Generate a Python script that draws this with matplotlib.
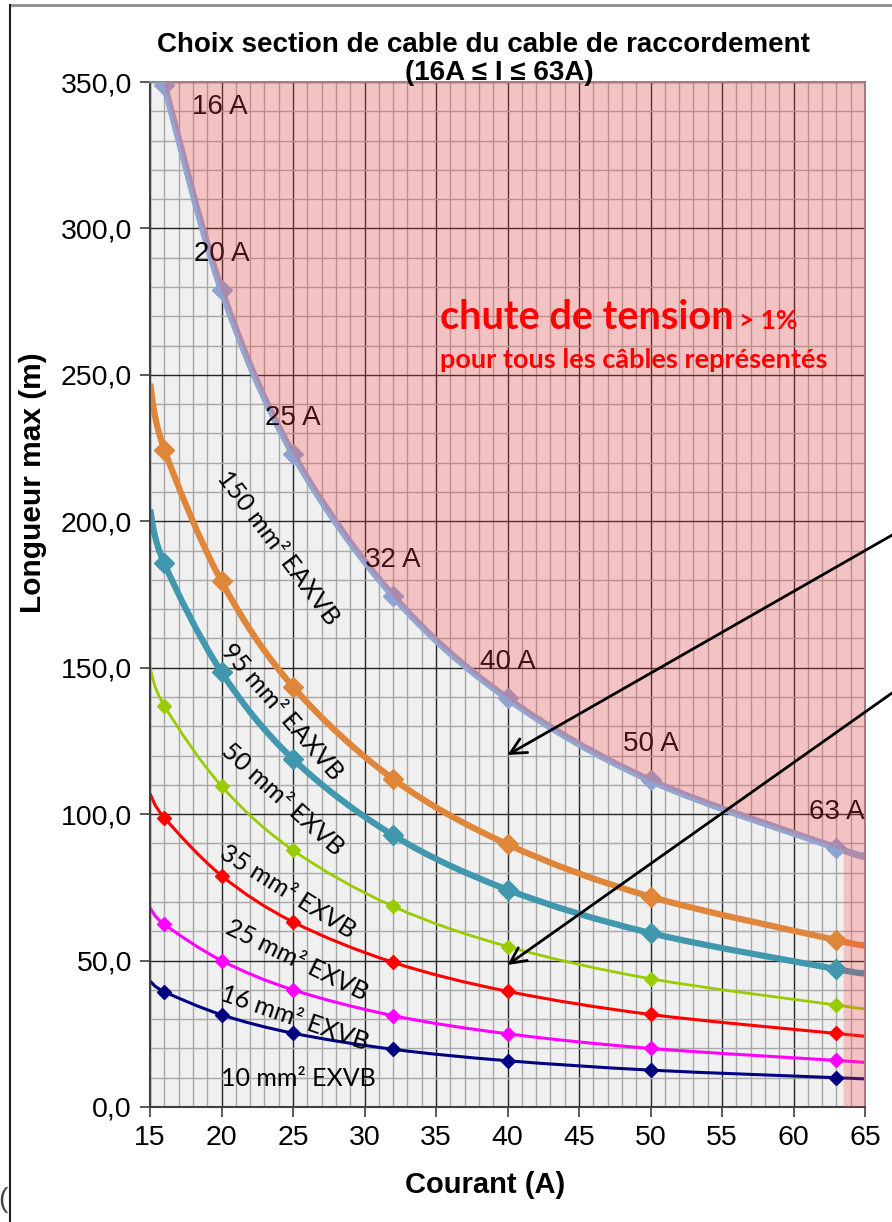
import numpy as np
import matplotlib
matplotlib.use('Agg')
import matplotlib.pyplot as plt
from matplotlib.path import Path
from matplotlib.patches import PathPatch
from matplotlib.lines import Line2D
from matplotlib.ticker import FuncFormatter, MultipleLocator

# courant (A) des points marques
courant = [16, 20, 25, 32, 40, 50, 63]

# longueur max (m)
limite_1pct = [349, 279, 223, 174.5, 139.5, 111.5, 88.5]
l_150 = [224.5, 179.5, 143.5, 112, 89.7, 71.8, 57]
l_95 = [185.6, 148.5, 118.8, 92.8, 74.2, 59.4, 47.1]
l_50 = [137, 109.6, 87.7, 68.5, 54.8, 43.8, 34.8]
l_35 = [98.8, 79, 63.2, 49.4, 39.5, 31.6, 25.1]
l_25 = [62.4, 50, 40, 31.2, 25, 20, 15.9]
l_10 = [39.4, 31.5, 25.2, 19.7, 15.8, 12.6, 10]

# extremites des courbes lissees (sans marqueur), a 15 A et 65 A
bord_15 = {'150': 247, '95': 204, '50': 150, '35': 107, '25': 68, '10': 43}
bord_65 = {'lim': 85.6, '150': 55.2, '95': 45.7, '50': 33.5, '35': 24.2, '25': 15.2, '10': 9.6}

labels_courant = ['16 A', '20 A', '25 A', '32 A', '40 A', '50 A', '63 A']


def smooth_path(x, y):
    # courbe lissee facon Excel (Catmull-Rom -> Bezier cubique)
    pts = np.column_stack([x, y]).astype(float)
    n = len(pts)
    verts = [pts[0]]
    codes = [Path.MOVETO]
    for i in range(n - 1):
        p0 = pts[max(i - 1, 0)]
        p1 = pts[i]
        p2 = pts[i + 1]
        p3 = pts[min(i + 2, n - 1)]
        verts += [p1 + (p2 - p0) / 6, p2 - (p3 - p1) / 6, p2]
        codes += [Path.CURVE4] * 3
    return verts, codes


fig = plt.figure(figsize=(8.92, 12.22), dpi=100)
ax = fig.add_axes([150 / 892, 1 - 1107 / 1222, 715 / 892, 1025 / 1222])
ax.set_facecolor('#f0f0f0')
ax.set_xlim(15, 65)
ax.set_ylim(0, 350)

ax.xaxis.set_major_locator(MultipleLocator(5))
ax.xaxis.set_minor_locator(MultipleLocator(1))
ax.yaxis.set_major_locator(MultipleLocator(50))
ax.yaxis.set_minor_locator(MultipleLocator(10))
ax.yaxis.set_major_formatter(FuncFormatter(lambda v, p: '{:.1f}'.format(v).replace('.', ',')))
ax.set_axisbelow(True)
ax.grid(which='minor', color='#a8a8a8', lw=1.0, zorder=0.5)
ax.grid(which='major', color='#262626', lw=1.0, zorder=0.6)
ax.tick_params(which='minor', length=0)
ax.tick_params(which='major', direction='out', length=7, width=1.2, color='#404040',
               labelsize=20.5, pad=6)
for lab in ax.get_xticklabels() + ax.get_yticklabels():
    lab.set_fontfamily('Liberation Sans')
for s in ['top', 'right']:
    ax.spines[s].set_color('#8c8c8c')
    ax.spines[s].set_linewidth(1.5)
for s in ['left', 'bottom']:
    ax.spines[s].set_color('#404040')
    ax.spines[s].set_linewidth(1.5)

series = [
    ('10', l_10, '#000080', 2.2, 7),
    ('25', l_25, '#ff00ff', 2.2, 7),
    ('35', l_35, '#ff0000', 2.2, 7),
    ('50', l_50, '#99cc00', 2.0, 7),
    ('95', l_95, '#4097ae', 4.5, 10),
    ('150', l_150, '#e0863a', 4.5, 10),
]
for key, vals, col, lw, ms in series:
    xs = [15] + courant + [65]
    ys = [bord_15[key]] + vals + [bord_65[key]]
    v, c = smooth_path(xs, ys)
    ax.add_patch(PathPatch(Path(v, c), fill=False, edgecolor=col, lw=lw, zorder=2))
    ax.plot(courant, vals, 'D', color=col, ms=ms, zorder=3)

# courbe limite 1%
xs_lim = courant + [65]
ys_lim = limite_1pct + [bord_65['lim']]
v, c = smooth_path(xs_lim, ys_lim)
ax.add_patch(PathPatch(Path(v, c), fill=False, edgecolor='#92a6d1', lw=5, zorder=2))
ax.plot(courant, limite_1pct, 'D', color='#8fa3d0', ms=10, zorder=3)

# zone rouge (chute de tension > 1%)
zv = list(v) + [(65, 350), (16, 350), (16, 350)]
zc = list(c) + [Path.LINETO, Path.LINETO, Path.CLOSEPOLY]
zv += [(63.5, 0), (65, 0), (65, 350), (63.5, 350), (63.5, 0)]
zc += [Path.MOVETO, Path.LINETO, Path.LINETO, Path.LINETO, Path.CLOSEPOLY]
ax.add_patch(PathPatch(Path(zv, zc), facecolor=(1, 0.27, 0.27, 0.26), edgecolor='none', zorder=4))

# etiquettes des courants
for i, (xi, yi, lab) in enumerate(zip(courant, limite_1pct, labels_courant)):
    off = (40, -16) if i == 0 else (0, 26)
    ax.annotate(lab, (xi, yi), xytext=off, textcoords='offset points', ha='center', va='center',
                fontsize=20, family='Liberation Sans', color='black', zorder=3.5)

# etiquettes des cables
cables = [
    ('150 mm² EAXVB', 23.95, 190.9, -53),
    ('95 mm² EAXVB', 24.2, 134.9, -49),
    ('50 mm² EXVB', 24.3, 105.2, -42),
    ('35 mm² EXVB', 24.65, 73.4, -32),
    ('25 mm² EXVB', 25.3, 50.2, -26),
    ('16 mm² EXVB', 25.1, 30.4, -19),
    ('10 mm² EXVB', 25.4, 9.6, 0),
]
for txt, xc, yc, rot in cables:
    ax.text(xc, yc, txt, rotation=rot, rotation_mode='anchor', ha='center', va='center',
            fontsize=18, family='Lato', color='black', zorder=3.5)

ax.text(35.3, 265.5, 'chute de tension', color='#ff0000', fontsize=28.5, fontweight='bold',
        family='Lato', va='baseline', zorder=6)
ax.text(56.2, 265.5, '> 1%', color='#ff0000', fontsize=19, fontweight='bold',
        family='Lato', va='baseline', zorder=6)
ax.text(35.3, 252.3, 'pour tous les câbles représentés', color='#ff0000', fontsize=19.5,
        fontweight='bold', family='Lato', va='baseline', zorder=6)

# fleches
for tip, tail in [((40, 120.2), (66.9, 195.3)), ((40, 48.5), (66.9, 141.4))]:
    ax.annotate('', xy=tip, xytext=tail, annotation_clip=False, zorder=6,
                arrowprops=dict(arrowstyle='->', color='black', lw=2,
                                mutation_scale=28, shrinkA=0, shrinkB=0))

fig.text(483 / 892, 1 - 45 / 1222, 'Choix section de cable du cable de raccordement',
         ha='center', va='center', fontsize=20, fontweight='bold', family='Liberation Sans')
fig.text(499 / 892, 1 - 73 / 1222, '(16A ≤ I ≤ 63A)',
         ha='center', va='center', fontsize=20, fontweight='bold', family='Liberation Sans')
fig.text(33 / 892, 1 - 483 / 1222, 'Longueur max (m)', rotation=90, ha='center', va='center',
         fontsize=21.5, fontweight='bold', family='Liberation Sans')
fig.text(485 / 892, 1 - 1185 / 1222, 'Courant (A)', ha='center', va='center',
         fontsize=21, fontweight='bold', family='Liberation Sans')

# cadre de la zone graphique (coupe)
fig.add_artist(Line2D([10 / 892, 1], [1 - 5 / 1222, 1 - 5 / 1222], color='#8c8c8c', lw=2))
fig.add_artist(Line2D([10 / 892, 10 / 892], [0, 1 - 5 / 1222], color='#202020', lw=1.5))
fig.text(-2 / 892, 1 - 1200 / 1222, '(', fontsize=20, va='center', ha='left',
         family='Liberation Sans', color='#444444')

fig.savefig('out.png', dpi=100)
